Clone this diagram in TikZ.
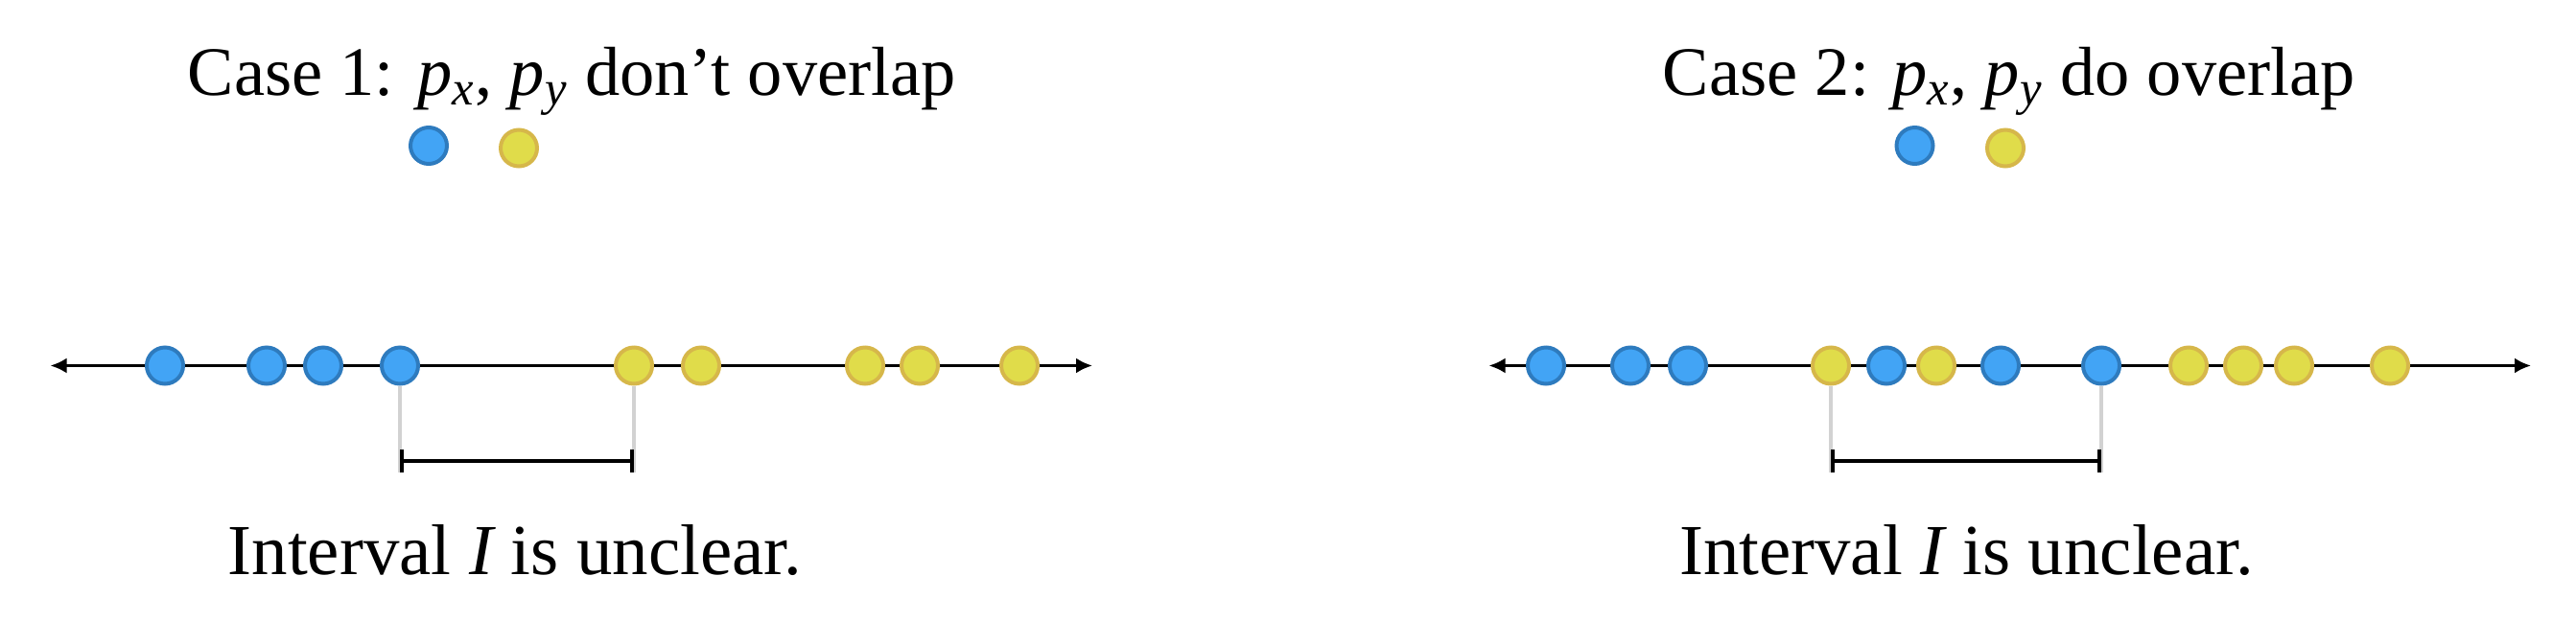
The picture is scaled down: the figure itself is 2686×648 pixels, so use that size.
\documentclass[tikz,border=0pt]{standalone}
\usepackage{fontspec}
\setmainfont{Liberation Serif}
\usetikzlibrary{arrows.meta}
\usepackage{xcolor}
\definecolor{bl}{HTML}{42A4F5}
\definecolor{blb}{HTML}{2E7BBE}
\definecolor{yl}{HTML}{E0DC4A}
\definecolor{ylb}{HTML}{D6B74A}
\definecolor{gr}{HTML}{D2D2D2}

\begin{document}
\begin{tikzpicture}[
      x = 0.1mm, y = 0.1mm, % one unit per pixel
      > = {Latex[length=1.7mm, width=1.6mm]}, % arrow head style
      line width = 0.3mm, % line style
    ]

    \tikzstyle{every node}=[font=\fontsize{20.6}{24}\selectfont]
    \tikzstyle{dot}=[circle, line width = 0.4mm, minimum size = 3.8mm, inner sep = 0pt]
    \tikzstyle{bluedot}=[dot, draw = blb, fill = bl]
    \tikzstyle{yellowdot}=[dot, draw = ylb, fill = yl]
    \tikzstyle{drop}=[draw = gr, line width = 0.4mm]
    \tikzstyle{bracket}=[{Bar[width=2.4mm]}-{Bar[width=2.4mm]}, line width = 0.4mm]
    \tikzstyle{caption}=[anchor = base, font=\fontsize{21.3}{24}\selectfont]

    \useasboundingbox (0, 0) rectangle (2686, 648);

    % case 1
    \node[anchor = base] (t1) at (596.5, 549) {Case 1: $\mathit{p}_{\mathit{x}}$, $\mathit{p}_{\mathit{y}}$ don't overlap};
    \node[bluedot] (px1) at (447, 496) {};
    \node[yellowdot] (py1) at (541, 493.5) {};

    \coordinate (la) at (52.5, 266.5);
    \coordinate (lz) at (1139, 266.5);
    \draw[<->] (la) -- (lz);

    \node[bluedot] (lb1) at (172, 266.5) {};
    \node[bluedot] (lb2) at (278, 266.5) {};
    \node[bluedot] (lb3) at (337, 266.5) {};
    \node[bluedot] (lb4) at (417, 266.5) {};
    \node[yellowdot] (ly1) at (661, 266.5) {};
    \node[yellowdot] (ly2) at (731, 266.5) {};
    \node[yellowdot] (ly3) at (902, 266.5) {};
    \node[yellowdot] (ly4) at (959, 266.5) {};
    \node[yellowdot] (ly5) at (1063, 266.5) {};

    \coordinate (li) at (417, 155);
    \coordinate (lj) at (661, 155);
    \path[drop] (lb4) -- (li);
    \path[drop] (ly1) -- (lj);
    \draw[bracket] (417, 167) coordinate (lk) -- (661, 167) coordinate (ll);

    \node[caption] (u1) at (537, 49) {Interval $\mathit{I}$ is unclear.};

    % case 2
    \node[anchor = base] (t2) at (2095, 549) {Case 2: $\mathit{p}_{\mathit{x}}$, $\mathit{p}_{\mathit{y}}$ do overlap};
    \node[bluedot] (px2) at (1996.5, 496) {};
    \node[yellowdot] (py2) at (2091, 493.5) {};

    \coordinate (ra) at (1552.5, 266.5);
    \coordinate (rz) at (2639, 266.5);
    \draw[<->] (ra) -- (rz);

    \node[bluedot] (rb1) at (1612, 266.5) {};
    \node[bluedot] (rb2) at (1700, 266.5) {};
    \node[bluedot] (rb3) at (1760, 266.5) {};
    \node[yellowdot] (ry1) at (1909, 266.5) {};
    \node[bluedot] (rb4) at (1967, 266.5) {};
    \node[yellowdot] (ry2) at (2019, 266.5) {};
    \node[bluedot] (rb5) at (2086, 266.5) {};
    \node[bluedot] (rb6) at (2191, 266.5) {};
    \node[yellowdot] (ry3) at (2282, 266.5) {};
    \node[yellowdot] (ry4) at (2339, 266.5) {};
    \node[yellowdot] (ry5) at (2392, 266.5) {};
    \node[yellowdot] (ry6) at (2492, 266.5) {};

    \coordinate (ri) at (1909, 155);
    \coordinate (rj) at (2191, 155);
    \path[drop] (ry1) -- (ri);
    \path[drop] (rb6) -- (rj);
    \draw[bracket] (1909, 167) coordinate (rk) -- (2191, 167) coordinate (rl);

    \node[caption] (u2) at (2050.5, 49) {Interval $\mathit{I}$ is unclear.};
  \end{tikzpicture}
\end{document}
